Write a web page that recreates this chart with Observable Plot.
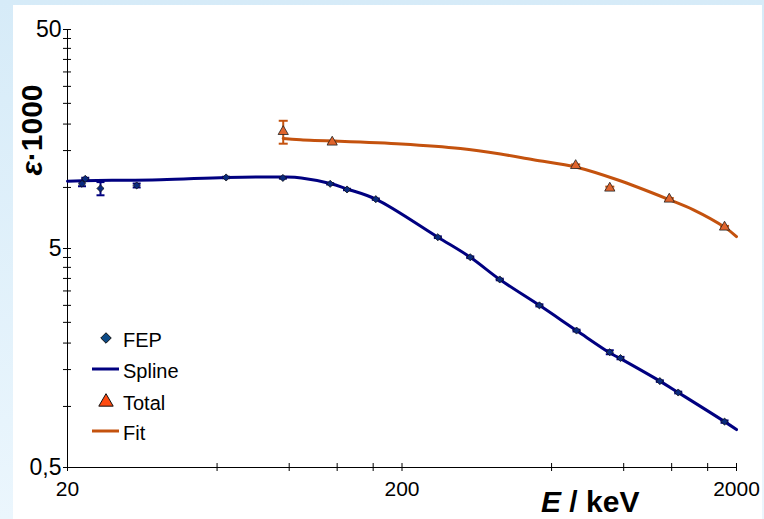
<!DOCTYPE html>
<html><head><meta charset="utf-8">
<script src="https://cdn.jsdelivr.net/npm/d3@7"></script>
<script src="https://cdn.jsdelivr.net/npm/@observablehq/plot@0.6"></script>
<style>
html,body{margin:0;padding:0;background:#fff;}
#outer{position:relative;width:764px;height:519px;background:linear-gradient(to bottom,#d6ebf8,#ebf6fd);overflow:hidden;}
#inner{position:absolute;left:13px;top:5px;width:749px;height:514px;background:#fff;}
svg{display:block;font-family:"Liberation Sans",Arial,sans-serif;}
</style></head><body><div id="outer"><div id="inner"></div></div>
<script>
// FEP efficiency points (E in keV, efficiency x1000)
const fepE   = [22.1, 22.6, 25.1, 32.2, 59.6, 88.1, 122, 137, 167, 256, 320, 392, 515, 665, 836, 900, 1180, 1339, 1842];
const fepV   = [9.87, 10.40, 9.40, 9.70, 10.55, 10.5, 9.87, 9.30, 8.40, 5.63, 4.56, 3.61, 2.75, 2.11, 1.68, 1.58, 1.24, 1.10, 0.81];
const fepErr = [0.25, 0.12, 0.65, 0.2, 0.08, 0.08, 0.07, 0.07, 0.06, 0.05, 0.04, 0.03, 0.03, 0.02, 0.035, 0.02, 0.01, 0.01, 0.01];
// Spline through FEP
const splE = [20, 22.1, 38, 59.6, 88.1, 100, 122, 137, 167, 256, 320, 392, 515, 665, 836, 900, 1180, 1339, 1842, 2000];
const splV = [10.15, 10.2, 10.3, 10.55, 10.6, 10.5, 9.9, 9.35, 8.4, 5.63, 4.56, 3.61, 2.75, 2.11, 1.67, 1.57, 1.24, 1.10, 0.81, 0.745];
// Total efficiency points
const totE   = [88.3, 123.7, 661, 836, 1259, 1842];
const totV   = [17.1, 15.3, 11.96, 9.43, 8.40, 6.26];
const totErr = [2.05, 0.2, 0.15, 0.15, 0.1, 0.08];
// Fit through total
const fitE = [88.3, 99.5, 199, 299, 394, 494, 665, 880, 1241, 1487, 1842, 2000];
const fitV = [15.9, 15.7, 15.0, 14.3, 13.5, 12.7, 11.75, 10.3, 8.43, 7.51, 6.26, 5.67];
// Axis ticks
const xMajor = [20, 200, 2000];
const xMinor = [56, 92, 128, 164, 560, 920, 1280, 1640];
const yMajor = [0.5, 5, 50];
const yMinor = [0.95, 1.4, 1.85, 2.3, 2.75, 3.2, 3.65, 4.1, 4.55, 9.5, 14, 18.5, 23, 27.5, 32, 36.5, 41, 45.5];

const navy = "#000080", navyFill = "#0a2a80";
const fitColor = "#c4520e", totFill = "#e0642c";

const fep = fepE.map((e,i)=>({e, v:fepV[i], lo:fepV[i]-fepErr[i], hi:fepV[i]+fepErr[i]}));
const tot = totE.map((e,i)=>({e, v:totV[i], lo:totV[i]-totErr[i], hi:totV[i]+totErr[i]}));
const spl = splE.map((e,i)=>({e, v:splV[i]}));
const fit = fitE.map((e,i)=>({e, v:fitV[i]}));

const capSym = {draw(ctx, size){ const w = Math.sqrt(size/Math.PI); ctx.moveTo(-w,0); ctx.lineTo(w,0); }};
const yFmt = d => String(d).replace(".", ",");

const plot = Plot.plot({
  width: 749, height: 514,
  marginLeft: 54, marginRight: 26, marginTop: 24, marginBottom: 52,
  style: {fontFamily: '"Liberation Sans", Arial, sans-serif', fontSize: "20px", color: "black", background: "transparent"},
  x: {type: "log", domain: [20, 2000]},
  y: {type: "log", domain: [0.5, 50]},
  marks: [
    Plot.ruleX([20], {stroke: "black", strokeWidth: 1}),
    Plot.ruleY([0.5], {stroke: "black", strokeWidth: 1}),
    Plot.axisX({ticks: [...xMajor, ...xMinor], tickSize: 8, dy: -4, fill: "none", stroke: "black", label: null}),
    Plot.axisY({ticks: [...yMajor, ...yMinor], tickSize: 8, dx: 4, fill: "none", stroke: "black", label: null}),
    // tick labels
    Plot.text(xMajor, {x: d => d, frameAnchor: "bottom", lineAnchor: "top", dy: 14, text: d => String(d), fontSize: 21, fill: "black"}),
    Plot.text(yMajor, {y: d => d, frameAnchor: "left", textAnchor: "end", dx: -6, text: yFmt, fontSize: 23, fill: "black"}),
    // FEP spline
    Plot.line(spl, {x: "e", y: "v", stroke: navy, strokeWidth: 3, curve: "catmull-rom"}),
    // Total fit
    Plot.line(fit, {x: "e", y: "v", stroke: fitColor, strokeWidth: 3, curve: "catmull-rom"}),
    // FEP error bars
    Plot.ruleX(fep, {x: "e", y1: "lo", y2: "hi", stroke: navy, strokeWidth: 2}),
    Plot.dot(fep, {x: "e", y: "lo", symbol: capSym, r: 4, stroke: navy, strokeWidth: 2, fill: "none"}),
    Plot.dot(fep, {x: "e", y: "hi", symbol: capSym, r: 4, stroke: navy, strokeWidth: 2, fill: "none"}),
    Plot.dot(fep, {x: "e", y: "v", symbol: "diamond2", r: 3.2, fill: navyFill, stroke: "#111", strokeWidth: 0.8}),
    // Total error bars
    Plot.ruleX(tot, {x: "e", y1: "lo", y2: "hi", stroke: fitColor, strokeWidth: 2}),
    Plot.dot(tot, {x: "e", y: "lo", symbol: capSym, r: 4.5, stroke: fitColor, strokeWidth: 2, fill: "none"}),
    Plot.dot(tot, {x: "e", y: "hi", symbol: capSym, r: 4.5, stroke: fitColor, strokeWidth: 2, fill: "none"}),
    Plot.dot(tot, {x: "e", y: "v", symbol: "triangle", r: 3.8, fill: totFill, stroke: "#222", strokeWidth: 0.8})
  ]
});
document.getElementById("inner").appendChild(plot);

const svg = d3.select(plot);
// Y title
const yt = svg.append("text")
  .attr("transform", "translate(18,125) rotate(-90)")
  .attr("text-anchor", "middle").attr("dy", "0.35em")
  .style("font-size", "30px").style("font-weight", "bold").attr("fill", "black");
yt.append("tspan").style("font-style", "italic").text("ε");
yt.append("tspan").text("·1000");
// X title
const xt = svg.append("text")
  .attr("x", 528).attr("y", 507).attr("text-anchor", "start")
  .style("font-size", "30px").style("font-weight", "bold").attr("fill", "black");
xt.append("tspan").style("font-style", "italic").text("E");
xt.append("tspan").text(" / keV");

// Legend
const lg = svg.append("g").style("font-size", "20px").attr("text-anchor", "start").attr("fill", "black");
lg.append("path").attr("d", d3.symbol(d3.symbolDiamond2, 70)()).attr("transform", "translate(93,333)")
  .attr("fill", "#0c4a86").attr("stroke", "#111").attr("stroke-width", 1);
lg.append("text").attr("x", 110).attr("y", 335).attr("dy", "0.35em").text("FEP");
lg.append("line").attr("x1", 79).attr("x2", 106).attr("y1", 364).attr("y2", 364).attr("stroke", navy).attr("stroke-width", 3);
lg.append("text").attr("x", 110).attr("y", 366).attr("dy", "0.35em").text("Spline");
lg.append("path").attr("d", d3.symbol(d3.symbolTriangle, 90)()).attr("transform", "translate(93,397)")
  .attr("fill", "#ff4a10").attr("stroke", "#111").attr("stroke-width", 1);
lg.append("text").attr("x", 110).attr("y", 398).attr("dy", "0.35em").text("Total");
lg.append("line").attr("x1", 79).attr("x2", 106).attr("y1", 426).attr("y2", 426).attr("stroke", fitColor).attr("stroke-width", 3);
lg.append("text").attr("x", 110).attr("y", 428).attr("dy", "0.35em").text("Fit");
</script></body></html>
